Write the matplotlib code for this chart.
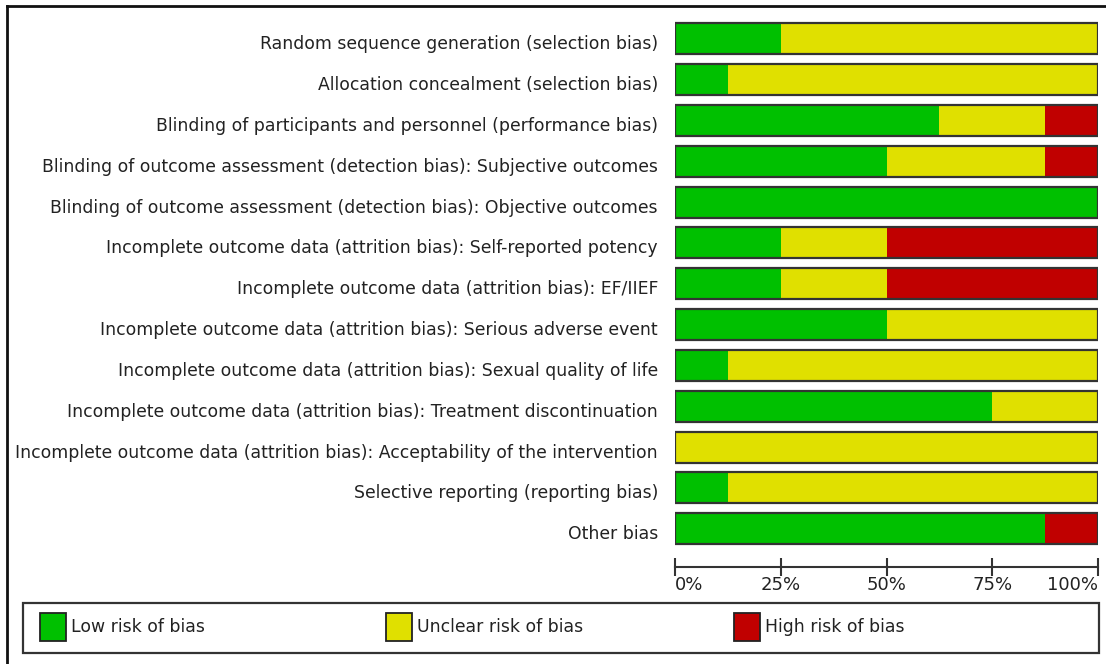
import matplotlib
matplotlib.use("Agg")
import matplotlib.pyplot as plt
from matplotlib.patches import Rectangle
from matplotlib.lines import Line2D

categories = [
    "Random sequence generation (selection bias)",
    "Allocation concealment (selection bias)",
    "Blinding of participants and personnel (performance bias)",
    "Blinding of outcome assessment (detection bias): Subjective outcomes",
    "Blinding of outcome assessment (detection bias): Objective outcomes",
    "Incomplete outcome data (attrition bias): Self-reported potency",
    "Incomplete outcome data (attrition bias): EF/IIEF",
    "Incomplete outcome data (attrition bias): Serious adverse event",
    "Incomplete outcome data (attrition bias): Sexual quality of life",
    "Incomplete outcome data (attrition bias): Treatment discontinuation",
    "Incomplete outcome data (attrition bias): Acceptability of the intervention",
    "Selective reporting (reporting bias)",
    "Other bias",
]
low_risk = [25, 12.5, 62.5, 50, 100, 25, 25, 50, 12.5, 75, 0, 12.5, 87.5]
unclear_risk = [75, 87.5, 25, 37.5, 0, 25, 25, 50, 87.5, 25, 100, 87.5, 0]
high_risk = [0, 0, 12.5, 12.5, 0, 50, 50, 0, 0, 0, 0, 0, 12.5]
series_names = ["Low risk of bias", "Unclear risk of bias", "High risk of bias"]
series_colors = ["#00C000", "#E0E000", "#C00000"]
tick_values = [0, 25, 50, 75, 100]
tick_labels = ["0%", "25%", "50%", "75%", "100%"]

W, H = 1106, 664
fig = plt.figure(figsize=(W / 100, H / 100), dpi=100)
plt.rcParams["font.family"] = ["DejaVu Sans"]

def fx(px):
    return px / W

def fy(py):
    return 1 - py / H

txt_color = "#222222"
edge = "#333333"
lab_fs = 12.4

# main bar axes
x0, x1 = 675, 1098
ytop, ybot = 18.3, 549.1
ax = fig.add_axes([fx(x0), fy(ybot), fx(x1) - fx(x0), fy(ytop) - fy(ybot)])
n = len(categories)
ypos = list(range(n))
left = [0] * n
for vals, col in zip([low_risk, unclear_risk, high_risk], series_colors):
    ax.barh(ypos, vals, left=left, height=0.76, color=col, edgecolor="none", linewidth=0)
    left = [l + v for l, v in zip(left, vals)]
ax.barh(ypos, left, left=0, height=0.76, fill=False, edgecolor=edge, linewidth=1.6)
ax.set_xlim(0, 100)
ax.set_ylim(n - 0.5, -0.5)
ax.axis("off")

# category labels
row_h = (ybot - ytop) / n
for i, lab in enumerate(categories):
    yc = ytop + row_h * (i + 0.5)
    fig.text(fx(658), fy(yc + 10.5), lab, ha="right", va="baseline",
             fontsize=lab_fs, color=txt_color)

# scale axis
axs = fig.add_axes([fx(x0), fy(567), fx(x1) - fx(x0), 0.0001])
axs.set_xlim(0, 100)
axs.set_xticks(tick_values)
axs.set_xticklabels(tick_labels, fontsize=13, color=txt_color)
for lbl, ha in zip(axs.get_xticklabels(), ["left", "center", "center", "center", "right"]):
    lbl.set_ha(ha)
axs.tick_params(axis="x", direction="inout", length=13, width=1.5, color=edge, pad=0)
axs.set_yticks([])
for s in ["top", "left", "right"]:
    axs.spines[s].set_visible(False)
axs.spines["bottom"].set_color(edge)
axs.spines["bottom"].set_linewidth(1.5)
axs.patch.set_visible(False)

# legend box
fig.add_artist(Rectangle((fx(23), fy(653)), fx(1099) - fx(23), fy(603) - fy(653),
                         transform=fig.transFigure, fill=False, edgecolor=edge, linewidth=1.6))
patch_x = [40, 386, 734]
for px, name, col in zip(patch_x, series_names, series_colors):
    fig.add_artist(Rectangle((fx(px), fy(641)), fx(26), fy(613) - fy(641),
                             transform=fig.transFigure, facecolor=col, edgecolor="#222222", linewidth=1.3))
    fig.text(fx(px + 31), fy(627), name, ha="left", va="center", fontsize=lab_fs, color=txt_color)

# outer frame (top and left)
fig.add_artist(Line2D([fx(7), fx(7)], [fy(6), 0], transform=fig.transFigure, color="#111111", linewidth=2))
fig.add_artist(Line2D([fx(7), 1], [fy(6), fy(6)], transform=fig.transFigure, color="#111111", linewidth=2))

fig.savefig("out.png", dpi=100, facecolor="white")
